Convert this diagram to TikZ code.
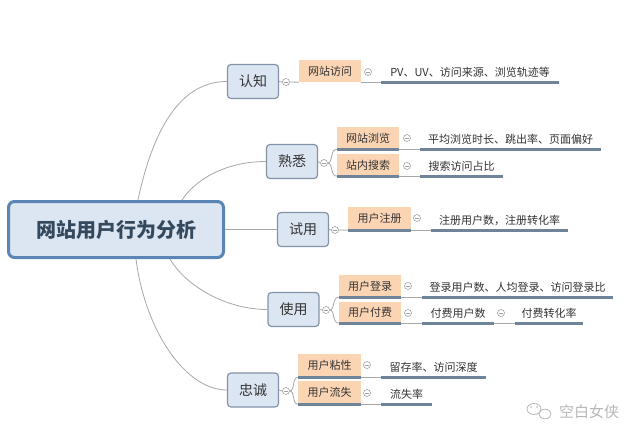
\documentclass[tikz,border=0pt]{standalone}
\usepackage{fontspec}
\newfontfamily\cjk{Noto Sans CJK SC}
\definecolor{rootfill}{HTML}{DCE6F2}
\definecolor{rootdraw}{HTML}{5A85B5}
\definecolor{roottext}{HTML}{34495E}
\definecolor{branchfill}{HTML}{DCE6F2}
\definecolor{branchdraw}{HTML}{8494A8}
\definecolor{orangefill}{HTML}{FBD4B4}
\definecolor{txt}{HTML}{333333}
\definecolor{linec}{HTML}{A8A8A8}
\definecolor{ulc}{HTML}{6F8399}
\definecolor{foldc}{HTML}{A0A0A0}
\definecolor{wmc}{HTML}{B8B8B8}
\begin{document}
\begin{tikzpicture}[x=1pt,y=-1pt,
 root/.style={draw=rootdraw,line width=3pt,fill=rootfill,rounded corners=6pt,minimum width=215pt,minimum height=56pt,inner sep=0pt,font=\cjk\bfseries\fontsize{20}{24}\selectfont,text=roottext},
 branch/.style={draw=branchdraw,line width=1.2pt,fill=branchfill,rounded corners=3.5pt,minimum width=51pt,minimum height=34pt,inner sep=0pt,font=\cjk\fontsize{14}{16}\selectfont,text=txt},
 sub/.style={fill=orangefill,minimum width=62pt,minimum height=22pt,inner sep=0pt,font=\cjk\fontsize{11}{13}\selectfont,text=txt},
 val/.style={minimum height=20pt,inner sep=0pt,font=\cjk\fontsize{11}{13}\selectfont,text=txt},
 fold/.style={circle,draw=foldc,fill=white,line width=0.6pt,minimum size=7pt,inner sep=0pt,
   path picture={\draw[foldc,line width=0.6pt] ([xshift=-2pt]path picture bounding box.center) -- ([xshift=2pt]path picture bounding box.center);}},
 conn/.style={draw=linec,line width=0.8pt},
 uline/.style={draw=ulc,line width=2.6pt},
]
\fill[white] (0,0) rectangle (640,440);
\useasboundingbox (0,0) rectangle (640,440);

% root
\node[root] (root) at (116,229.5) {网站用户行为分析};

% branches
\node[branch] (b1) at (253,81.5) {认知};
\node[branch] (b2) at (292,161.5) {熟悉};
\node[branch] (b3) at (303,229.5) {试用};
\node[branch] (b4) at (293.5,309.5) {使用};
\node[branch] (b5) at (253,390) {忠诚};

% root connectors
\coordinate (r1) at (138,200);
\coordinate (r2) at (182,200);
\coordinate (r4) at (170,259);
\coordinate (r5) at (136,259);
\draw[conn] (r1) .. controls (155,120) and (185,81.5) .. (b1.west);
\draw[conn] (r2) .. controls (195,180) and (225,161.5) .. (b2.west);
\draw[conn] (root.east) -- (b3.west);
\draw[conn] (r4) .. controls (185,285) and (225,309.5) .. (b4.west);
\draw[conn] (r5) .. controls (145,330) and (185,390) .. (b5.west);

% sub topics
\node[sub] (o1) at (330,71) {网站访问};
\node[sub] (o21) at (368,138) {网站浏览};
\node[sub] (o22) at (368,165) {站内搜索};
\node[sub,minimum width=63pt,minimum height=23pt] (o3) at (379.5,218.5) {用户注册};
\node[sub] (o41) at (370,286) {用户登录};
\node[sub,minimum height=21pt] (o42) at (370,312.5) {用户付费};
\node[sub,minimum width=63pt,minimum height=23pt] (o51) at (329.5,365.5) {用户粘性};
\node[sub,minimum width=63pt,minimum height=23pt] (o52) at (329.5,392.5) {用户流失};

% values
\node[val,minimum width=178pt] (v1) at (470,72) {PV、UV、访问来源、浏览轨迹等};
\node[val,minimum width=181pt] (v21) at (510.5,139) {平均浏览时长、跳出率、页面偏好};
\node[val,minimum width=83pt] (v22) at (461.5,166) {搜索访问占比};
\node[val,minimum width=137pt] (v3) at (499.5,220) {注册用户数，注册转化率};
\node[val,minimum width=191pt] (v41) at (517.5,287) {登录用户数、人均登录、访问登录比};
\node[val,minimum width=72pt] (v42) at (458,313) {付费用户数};
\node[val,minimum width=68pt] (v43) at (549,313) {付费转化率};
\node[val,minimum width=105pt] (v51) at (433.5,367) {留存率、访问深度};
\node[val,minimum width=51pt] (v52) at (406.5,394) {流失率};

% branch -> sub connectors with fold marks
\node[fold] (f1) at (286,82) {};
\node[fold] (f2) at (324,163) {};
\node[fold] (f3) at (335,230) {};
\node[fold] (f4) at (326,310) {};
\node[fold] (f5) at (286,391) {};
\draw[conn] (b1.east) -- (f1.west);
\draw[conn] (f1.east) -- (o1.south west);
\draw[conn] (b2.east) -- (f2.west);
\draw[conn] (f2.east) .. controls (333,163) and (330,149) .. (o21.south west);
\draw[conn] (f2.east) .. controls (333,163) and (330,176) .. (o22.south west);
\draw[conn] (b3.east) -- (f3.west);
\draw[conn] (f3.east) -- (o3.south west);
\draw[conn] (b4.east) -- (f4.west);
\draw[conn] (f4.east) .. controls (335,310) and (332,297) .. (o41.south west);
\draw[conn] (f4.east) .. controls (335,310) and (332,323) .. (o42.south west);
\draw[conn] (b5.east) -- (f5.west);
\draw[conn] (f5.east) .. controls (295,391) and (292,377) .. (o51.south west);
\draw[conn] (f5.east) .. controls (295,391) and (292,404) .. (o52.south west);

% sub -> value connectors
\draw[conn] (o1.south east) -- (v1.south west);
\draw[conn] (o21.south east) -- (v21.south west);
\draw[conn] (o22.south east) -- (v22.south west);
\draw[conn] (o3.south east) -- (v3.south west);
\draw[conn] (o41.south east) -- (v41.south west);
\draw[conn] (o42.south east) -- (v42.south west);
\draw[conn] (v42.south east) -- (v43.south west);
\draw[conn] (o51.south east) -- (v51.south west);
\draw[conn] (o52.south east) -- (v52.south west);

% underlines
\foreach \n in {o21,o22,o3,o41,o42,o51,o52,v1,v21,v22,v3,v41,v42,v43,v51,v52}
  \draw[uline] (\n.south west) -- (\n.south east);

% fold marks after sub topics
\node[fold] (g1) at (368,72) {};
\node[fold] (g21) at (407,138) {};
\node[fold] (g22) at (407,166) {};
\node[fold] (g3) at (417,218) {};
\node[fold] (g41) at (408,286) {};
\node[fold] (g42) at (408,313) {};
\node[fold] (g43) at (501,313) {};
\node[fold] (g51) at (367,365) {};
\node[fold] (g52) at (367,393) {};

% watermark
\draw[wmc,line width=0.8pt] (534,409) ellipse [x radius=7pt, y radius=5.5pt];
\draw[wmc,line width=0.8pt,fill=white] (545,414) ellipse [x radius=6pt, y radius=4.8pt];
\fill[wmc] (531,407) circle (0.8pt) (537,407) circle (0.8pt);
\node[font=\cjk\fontsize{15}{17}\selectfont,text=wmc,inner sep=0pt] (wm) at (589,412) {空白女侠};
\end{tikzpicture}
\end{document}
